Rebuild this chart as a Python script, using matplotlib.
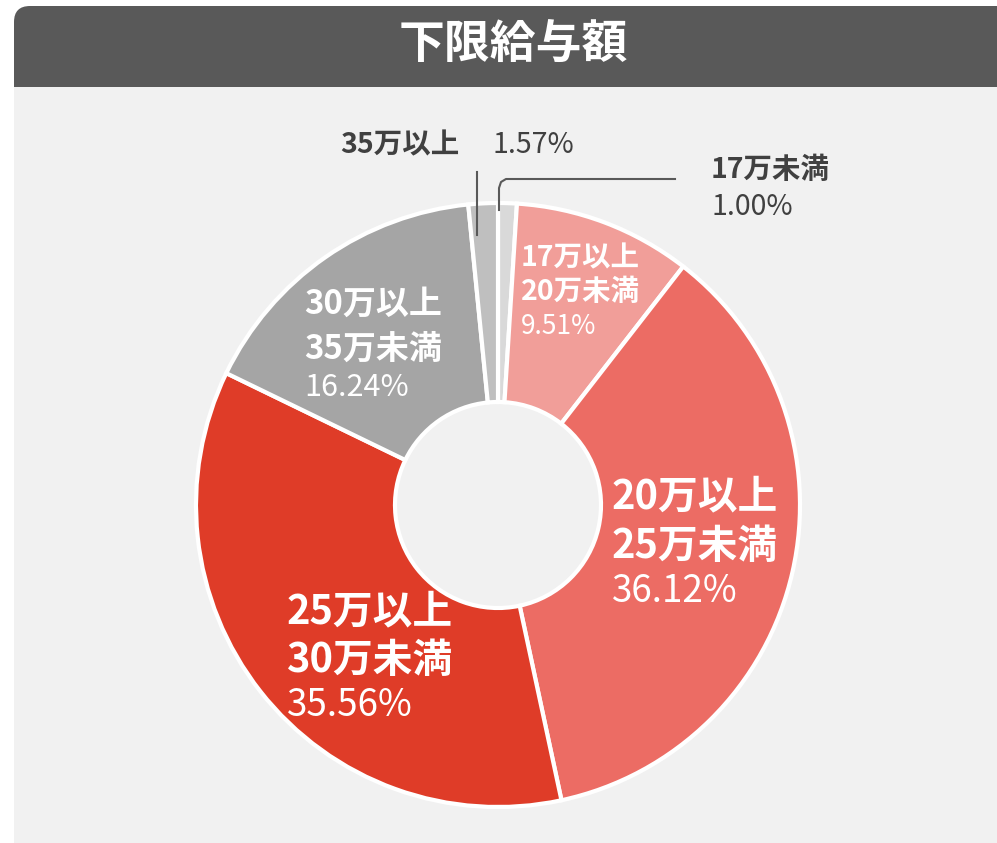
import matplotlib.pyplot as plt
from matplotlib.patches import FancyBboxPatch, Rectangle

plt.rcParams['font.family'] = ['Noto Sans CJK JP', 'DejaVu Sans']

# Datos del gráfico (orden horario desde arriba)
categorias = ['17万未満', '17万以上\n20万未満', '20万以上\n25万未満',
              '25万以上\n30万未満', '30万以上\n35万未満', '35万以上']
porcentajes = [1.00, 9.51, 36.12, 35.56, 16.24, 1.57]
colores = ['#d9d9d9', '#f19e99', '#ec6c64', '#df3c28', '#a5a5a5', '#bfbfbf']
titulo = '下限給与額'

W, H = 997, 843
fig = plt.figure(figsize=(W / 100, H / 100), dpi=100)
fig.patch.set_facecolor('white')
ax = fig.add_axes([0, 0, 1, 1])

def Y(y):
    # coordenada de imagen -> coordenada de datos
    return H - y

# Fondo del panel y cabecera
ax.add_patch(FancyBboxPatch((14, Y(87) - 30), W + 40, 30 + 81,
                            boxstyle='round,pad=0,rounding_size=16',
                            facecolor='#595959', edgecolor='none', zorder=0))
ax.add_patch(Rectangle((14, 0), W, Y(87), facecolor='#f1f1f1',
                       edgecolor='none', zorder=1))
ax.text(513, Y(45), titulo, color='white', fontsize=33, fontweight='bold',
        ha='center', va='center', zorder=3)

# Donut
cx, cy, r, r_in = 498, Y(505), 302, 103
ax.pie(porcentajes, colors=colores, startangle=90, counterclock=False,
       center=(cx, cy), radius=r,
       wedgeprops=dict(width=r - r_in, edgecolor='white', linewidth=3))
for w in ax.patches[-len(porcentajes):]:
    w.set_zorder(2)

# Etiquetas dentro de las porciones
def etiqueta(x, y1, y2, y3, texto, pct, fs):
    l1, l2 = texto.split('\n')
    ax.text(x, Y(y1), l1, color='white', fontsize=fs * 1.08, fontweight='bold', va='center', zorder=4)
    ax.text(x, Y(y2), l2, color='white', fontsize=fs * 1.08, fontweight='bold', va='center', zorder=4)
    ax.text(x, Y(y3), f'{pct:.2f}%', color='white', fontsize=fs, va='center', zorder=4)

etiqueta(521, 258, 292, 326, categorias[1], porcentajes[1], 19)
etiqueta(612, 497, 546, 592, categorias[2], porcentajes[2], 26.5)
etiqueta(287, 612, 660, 706, categorias[3], porcentajes[3], 26.5)
etiqueta(304, 304, 349, 387, categorias[4], porcentajes[4], 22)

# Etiquetas exteriores con líneas guía
oscuro = '#404040'
ax.text(340, Y(145), categorias[5], color=oscuro, fontsize=20.5, fontweight='bold', va='center', zorder=4)
ax.text(492, Y(145), f'{porcentajes[5]:.2f}%', color=oscuro, fontsize=20.5, va='center', zorder=4)
ax.plot([477, 477], [Y(172), Y(235)], color='#595959', lw=1.5, zorder=5)

ax.text(711, Y(170), categorias[0], color=oscuro, fontsize=20.5, fontweight='bold', va='center', zorder=4)
ax.text(711, Y(207), f'{porcentajes[0]:.2f}%', color=oscuro, fontsize=20.5, va='center', zorder=4)
ax.plot([499, 499, 501, 506, 675], [Y(210), Y(188), Y(182), Y(179), Y(179)],
        color='#595959', lw=1.5, zorder=5)

ax.set_xlim(0, W)
ax.set_ylim(0, H)
ax.set_aspect('auto')
ax.axis('off')

plt.savefig('out.png', dpi=100, facecolor=fig.get_facecolor())
